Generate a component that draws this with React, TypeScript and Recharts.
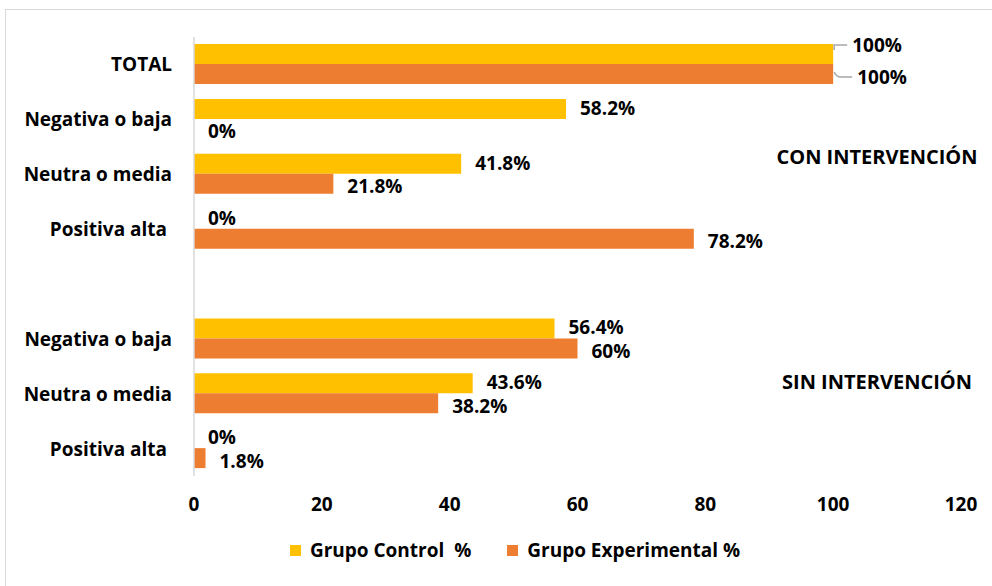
import React from 'react';
import { BarChart, Bar, XAxis, YAxis, LabelList, Legend } from 'recharts';

const categories = [
  'TOTAL',
  'Negativa o baja',
  'Neutra o media',
  'Positiva alta ',
  '',
  'Negativa o baja',
  'Neutra o media',
  'Positiva alta ',
];
const controlValues = [100, 58.2, 41.8, 0, null, 56.4, 43.6, 0];
const experimentalValues = [100, 0, 21.8, 78.2, null, 60, 38.2, 1.8];
const xTicks = [0, 20, 40, 60, 80, 100, 120];
const groupNotes = ['CON INTERVENCIÓN', 'SIN INTERVENCIÓN'];

const CONTROL = '#FFC000';
const EXPERIMENTAL = '#ED7D31';
const FONT = '"Open Sans", Lato, sans-serif';

const data = categories.map((name, i) => ({
  name,
  control: controlValues[i],
  experimental: experimentalValues[i],
}));

const YTick = (props: any) => {
  const { x, y, payload } = props;
  return (
    <text
      x={x}
      y={y}
      textAnchor='end'
      dominantBaseline='central'
      style={{ whiteSpace: 'pre' }}
      fontFamily={FONT}
      fontWeight={700}
      fontSize={19}
      fill='#000'>
      {payload.value}
    </text>
  );
};

const makeLabel = (upper: boolean) => (props: any) => {
  const { x, y, width, height, value, index } = props;
  if (value === null || value === undefined) return null;
  const end = x + width;
  const cy = y + height / 2;
  const text = `${value}%`;
  if (index === 0) {
    // TOTAL: labels pushed apart with leader lines
    const ty = upper ? cy - 9 : cy + 3;
    const tx = upper ? end + 19 : end + 24;
    const path = upper
      ? `M${end + 1},${cy - 4} L${end + 1},${ty} L${tx - 5},${ty}`
      : `M${end + 1},${cy - 2} Q${end + 3},${ty} ${end + 8},${ty} L${tx - 5},${ty}`;
    return (
      <g>
        <path d={path} stroke='#a6a6a6' strokeWidth={1.5} fill='none' />
        <text
          x={tx}
          y={ty}
          dominantBaseline='central'
          fontFamily={FONT}
          fontWeight={700}
          fontSize={19}
          fill='#000'>
          {text}
        </text>
      </g>
    );
  }
  return (
    <text
      x={end + 14}
      y={upper ? cy - 1 : cy + 2.5}
      dominantBaseline='central'
      fontFamily={FONT}
      fontWeight={700}
      fontSize={19}
      fill='#000'>
      {text}
    </text>
  );
};

const LegendContent = () => (
  <div
    style={{
      display: 'flex',
      justifyContent: 'center',
      gap: 36,
      fontFamily: FONT,
      fontWeight: 700,
      fontSize: 19,
      color: '#000',
    }}>
    {[
      { label: 'Grupo Control  %', color: CONTROL },
      { label: 'Grupo Experimental %', color: EXPERIMENTAL },
    ].map((item) => (
      <div
        key={item.label}
        style={{ display: 'flex', alignItems: 'center', gap: 9 }}>
        <span style={{ width: 11, height: 11, background: item.color, display: 'inline-block' }} />
        <span style={{ whiteSpace: 'pre' }}>{item.label}</span>
      </div>
    ))}
  </div>
);

const zeroSize = (value: any) => (value === 0 ? 0.01 : 0);

export default function App() {
  return (
    <div style={{ position: 'absolute', left: 0, top: 0, width: 992, height: 586, background: '#fff' }}>
      <div
        style={{
          position: 'absolute',
          left: 5,
          top: 9,
          width: 990,
          height: 580,
          border: '1.5px solid #d9d9d9',
        }}
      />
      <div style={{ position: 'absolute', left: 0, top: 0 }}>
        <BarChart
          width={992}
          height={586}
          data={data}
          layout='vertical'
          margin={{ top: 37, right: 31, left: 0, bottom: 80 }}
          barGap={0}
          barSize={20}>
          <XAxis
            type='number'
            domain={[0, 120]}
            ticks={xTicks}
            axisLine={false}
            tickLine={false}
            tickSize={0}
            tickMargin={22}
            height={30}
            tick={{ fontFamily: FONT, fontWeight: 700, fontSize: 19, fill: '#000' }}
          />
          <YAxis
            type='category'
            dataKey='name'
            width={194}
            axisLine={{ stroke: '#d9d9d9', strokeWidth: 1.5 }}
            tickLine={false}
            tickSize={0}
            tickMargin={22}
            interval={0}
            tick={<YTick />}
          />
          <Legend
            layout='horizontal'
            verticalAlign='middle'
            align='center'
            wrapperStyle={{ top: 537, left: 19, width: 992 }}
            content={<LegendContent />}
          />
          <Bar
            dataKey='control'
            name='Grupo Control  %'
            fill={CONTROL}
            minPointSize={zeroSize}
            isAnimationActive={false}>
            <LabelList dataKey='control' content={makeLabel(true)} />
          </Bar>
          <Bar
            dataKey='experimental'
            name='Grupo Experimental %'
            fill={EXPERIMENTAL}
            minPointSize={zeroSize}
            isAnimationActive={false}>
            <LabelList dataKey='experimental' content={makeLabel(false)} />
          </Bar>
        </BarChart>
      </div>
      {groupNotes.map((note, i) => (
        <div
          key={note}
          style={{
            position: 'absolute',
            left: 760,
            width: 234,
            top: i === 0 ? 143 : 368,
            textAlign: 'center',
            fontFamily: FONT,
            fontWeight: 700,
            fontSize: 20,
            color: '#000',
          }}>
          {note}
        </div>
      ))}
    </div>
  );
}
